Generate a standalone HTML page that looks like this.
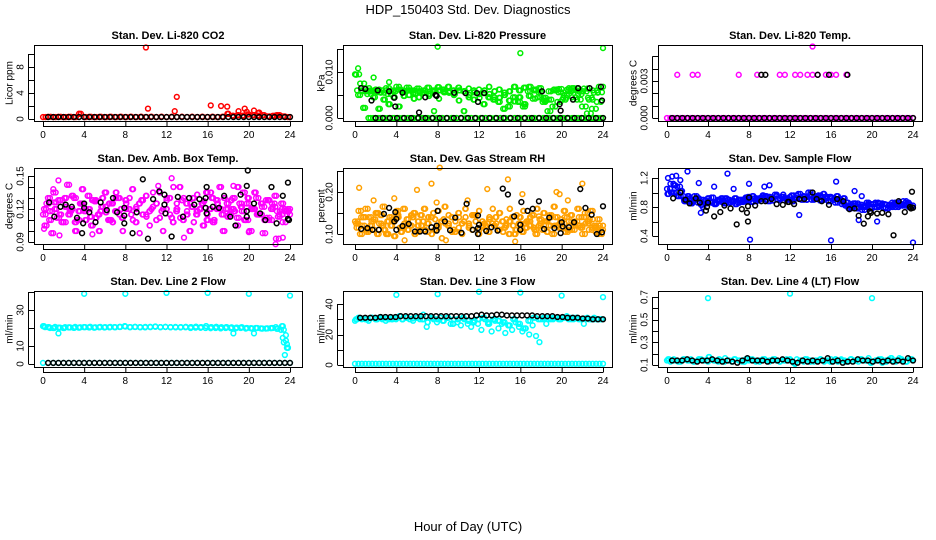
<!DOCTYPE html>
<html><head><meta charset="utf-8"><style>
html,body{margin:0;padding:0;background:#fff}
svg{display:block;font-family:"Liberation Sans",sans-serif}
</style></head><body>
<svg id="c" width="936" height="540" viewBox="0 0 936 540">
<text x="468" y="14" text-anchor="middle" font-size="13">HDP_150403  Std. Dev. Diagnostics</text>
<text x="468" y="531" text-anchor="middle" font-size="13">Hour of Day (UTC)</text>
</svg>
<script>
// ---------- data ----------
const xTicks=[0,4,8,12,16,20,24];
// P1 CO2
const co2Red=[0.3,0.35,0.3,0.35,0.3,0.35,0.3,0.8,0.3,0.35,0.3,0.35,0.3,0.35,0.3,0.35,0.3,0.35,0.3,0.35,0.3,0.35,0.3,0.35,0.3,0.35,0.3,0.35,0.3,0.35,0.3,0.35,0.3,0.35,0.3,0.35,0.8,0.5,0.6,0.5,0.7,0.6,0.5,0.6,0.4,0.5,0.6,0.4,0.3];
const co2RedOutX=[10,10.2,13,12.8,16.3,17.3,17.9,19.6,20.5,19,21,3.5,18,22.7,19.8,20.9];
const co2RedOutY=[11,1.6,3.4,1.2,2.1,2.0,1.9,1.6,1.3,1.2,1.0,0.8,0.8,0.6,1.1,0.9];
const co2Black=[0.3,0.3,0.3,0.3,0.3,0.3,0.3,0.3,0.3,0.3,0.3,0.3,0.3,0.3,0.3,0.3,0.3,0.3,0.3,0.3,0.3,0.3,0.3,0.3,0.3,0.3,0.3,0.3,0.3,0.3,0.3,0.3,0.3,0.3,0.3,0.3,0.3,0.3,0.3,0.3,0.3,0.3,0.3,0.3,0.3,0.3,0.3,0.3];
// P2 Pressure
const presZero=[0,0,0,0,0,0,0,0,0,0,0,0,0,0,0,0,0,0,0,0,0,0,0,0,0,0,0,0,0,0,0,0,0,0,0,0,0,0,0,0,0,0,0,0,0,0,0,0,0];
const presGreenA=[0.0095,0.0075,0.0065,0.006,0.0062,0.0055,0.0065,0.006,0.0068,0.006,0.0066,0.006,0.0064,0.0055,0.0066,0.006,0.0067,0.0062,0.0068,0.006,0.0066,0.0058,0.0064,0.006,0.0062,0.0055,0.0068,0.0045,0.0062,0.0055,0.0038,0.0068,0.0045,0.0066,0.0068,0.0062,0.0065,0.0038,0.004,0.0062,0.0063,0.005,0.0065,0.0065,0.0058,0.0064,0.004,0.0055,0.0068];
const presGreenB=[0.005,0.0022,0.0058,0.0045,0.002,0.004,0.003,0.0045,0.0025,0.0048,0.005,0.0042,0.0045,0.0055,0.0048,0.0015,0.0042,0.0058,0.0055,0.005,0.0038,0.0015,0.0045,0.004,0.0052,0.003,0.0045,0.004,0.0035,0.002,0.0025,0.0045,0.0035,0.0025,0.0058,0.0042,0.0045,0.0035,0.0015,0.0025,0.0035,0.004,0.0062,0.0045,0.004,0.0025,0.001,0.002,0.0035];
const presGreenC=[0.006,0.0058,0.0052,0.0058,0.0056,0.006,0.0052,0.0058,0.0062,0.0056,0.006,0.0054,0.0058,0.006,0.0052,0.0058,0.006,0.0056,0.0058,0.0052,0.006,0.0058,0.005,0.0056,0.0044,0.006,0.0052,0.0058,0.0044,0.005,0.0058,0.0036,0.006,0.003,0.0048,0.006,0.0056,0.0044,0.0058,0.006,0.0056,0.0044,0.0058,0.006,0.0052,0.0058,0.0044,0.006,0.0056];
const presOutX=[8,16,24,0.1,0.3,1.8,0.8,3.3];
const presOutY=[0.0155,0.0141,0.0152,0.0094,0.0108,0.0088,0.0022,0.0078];
const presBlackZero=[0,0,0,0,0,0,0,0,0,0,0,0,0,0,0,0,0,0,0,0,0,0,0,0,0,0,0,0,0,0,0,0,0];
const presBlackX=[0.6,1,1.6,2.2,3.3,3.8,3.9,4.6,6.8,7.8,7.9,9.6,10.7,11.8,11.9,12.5,18.1,19.8,19.9,21.1,21.6,22.7,23.8,23.9,6.2];
const presBlackY=[0.0065,0.0063,0.0038,0.006,0.0058,0.0044,0.0025,0.0055,0.0045,0.005,0.0048,0.0055,0.0054,0.0054,0.0035,0.0054,0.0058,0.003,0.0016,0.004,0.0065,0.0065,0.0068,0.0038,0.0012];
// P3 Temp
const tempMagZero=[0,0,0,0,0,0,0,0,0,0,0,0,0,0,0,0,0,0,0,0,0,0,0,0,0,0,0,0,0,0,0,0,0,0,0,0,0,0,0,0,0,0,0,0,0,0,0,0,0,0,0,0,0,0,0,0,0,0,0,0,0,0,0,0,0,0,0,0,0,0,0,0,0];
const tempMagX=[1,2.5,3,7,8.8,11,11.5,12.5,13,13.7,14.2,14.7,15.5,16,16.5,17.5,14.2];
const tempMagY=[0.0035,0.0035,0.0035,0.0035,0.0035,0.0035,0.0035,0.0035,0.0035,0.0035,0.0035,0.0035,0.0035,0.0035,0.0035,0.0035,0.0058];
const tempBlackZero=[0,0,0,0,0,0,0,0,0,0,0,0,0,0,0,0,0,0,0,0,0,0,0,0,0,0,0,0,0,0,0,0,0,0,0,0,0,0,0,0,0,0,0,0,0,0,0,0];
const tempBlackX=[9.2,9.6,14.7,15.8,17.6];
const tempBlackY=[0.0035,0.0035,0.0035,0.0035,0.0035];
// P4 Amb box temp
const ambA=[0.115,0.125,0.118,0.135,0.112,0.128,0.108,0.142,0.12,0.13,0.11,0.125,0.118,0.132,0.105,0.127,0.115,0.122,0.135,0.11,0.125,0.118,0.13,0.112,0.128,0.12,0.138,0.108,0.125,0.115,0.132,0.118,0.122,0.11,0.135,0.12,0.128,0.115,0.14,0.125,0.112,0.13,0.118,0.125,0.108,0.133,0.12,0.127,0.115,0.135,0.11,0.125,0.12,0.13,0.113,0.128,0.118,0.14,0.122,0.11,0.13,0.12,0.135,0.115,0.125,0.11,0.128,0.12,0.132,0.113,0.125,0.118,0.12];
const ambB=[0.105,0.13,0.098,0.12,0.128,0.108,0.122,0.115,0.132,0.1,0.118,0.138,0.11,0.12,0.128,0.112,0.1,0.13,0.117,0.125,0.108,0.135,0.115,0.1,0.12,0.13,0.11,0.122,0.098,0.128,0.115,0.105,0.135,0.125,0.112,0.1,0.12,0.13,0.108,0.118,0.14,0.11,0.125,0.1,0.13,0.115,0.12,0.105,0.135,0.12,0.108,0.128,0.14,0.1,0.12,0.115,0.13,0.105,0.125,0.135,0.11,0.1,0.12,0.13,0.115,0.098,0.128,0.11,0.122,0.093,0.115,0.108,0.118];
const ambC=[0.12,0.11,0.126,0.115,0.13,0.118,0.108,0.125,0.12,0.113,0.128,0.118,0.122,0.11,0.13,0.12,0.125,0.115,0.12,0.128,0.113,0.12,0.125,0.118,0.13,0.112,0.12,0.128,0.115,0.122,0.118,0.125,0.11,0.13,0.12,0.115,0.125,0.12,0.112,0.118,0.125,0.12,0.115,0.122,0.112,0.125,0.118,0.12,0.115];
const ambOutX=[0.1,1.5,1.6,12.5,13.7,20,22.6,23.3,18.5,1,4.8,11.2];
const ambOutY=[0.102,0.146,0.096,0.148,0.094,0.099,0.088,0.094,0.141,0.138,0.097,0.141];
const ambBlackX=[0.6,1.1,1.7,2.2,2.8,3.3,3.9,3.8,4,4,4.5,5.1,5.6,6.2,6.8,7.2,7.9,7.9,7.9,8.7,9.1,9.7,10.2,10.7,11.3,11.8,11.8,11.9,12.5,13.1,13.6,14.2,14.7,15.2,15.8,15.9,15.8,15.9,16.5,17.1,17.6,18.2,18.7,19.2,19.8,19.9,19.8,19.8,20.5,21.1,21.6,22.2,22.7,23.3,23.8,23.8,23.9];
const ambBlackY=[0.126,0.113,0.122,0.124,0.122,0.112,0.107,0.098,0.125,0.121,0.117,0.108,0.126,0.119,0.13,0.117,0.114,0.107,0.121,0.098,0.117,0.147,0.093,0.129,0.136,0.133,0.124,0.116,0.095,0.131,0.113,0.13,0.124,0.129,0.13,0.14,0.121,0.116,0.122,0.121,0.132,0.113,0.105,0.133,0.141,0.155,0.118,0.113,0.125,0.116,0.11,0.14,0.107,0.132,0.144,0.111,0.11];
// P5 Gas stream RH
const rhA=[0.13,0.155,0.12,0.16,0.14,0.11,0.15,0.125,0.165,0.1,0.14,0.13,0.155,0.115,0.16,0.135,0.12,0.15,0.105,0.145,0.16,0.125,0.14,0.11,0.155,0.13,0.165,0.12,0.14,0.105,0.15,0.125,0.16,0.115,0.145,0.13,0.155,0.12,0.11,0.14,0.16,0.125,0.15,0.105,0.135,0.16,0.12,0.145,0.11,0.155,0.13,0.14,0.115,0.16,0.125,0.15,0.105,0.14,0.165,0.12,0.135,0.155,0.11,0.145,0.125,0.16,0.115,0.14,0.13,0.155,0.12,0.135,0.11];
const rhB=[0.115,0.1,0.14,0.105,0.12,0.135,0.1,0.145,0.11,0.13,0.12,0.095,0.14,0.105,0.125,0.11,0.145,0.1,0.13,0.12,0.11,0.14,0.1,0.135,0.115,0.09,0.125,0.145,0.105,0.13,0.115,0.1,0.14,0.125,0.11,0.145,0.1,0.13,0.12,0.105,0.125,0.14,0.11,0.13,0.12,0.1,0.14,0.11,0.125,0.105,0.115,0.13,0.145,0.1,0.12,0.11,0.13,0.12,0.1,0.14,0.115,0.125,0.105,0.13,0.11,0.12,0.14,0.1,0.125,0.11,0.115,0.105,0.1];
const rhC=[0.125,0.14,0.11,0.13,0.15,0.12,0.1,0.135,0.145,0.115,0.125,0.14,0.12,0.13,0.105,0.15,0.12,0.135,0.125,0.11,0.14,0.13,0.12,0.145,0.11,0.125,0.135,0.12,0.15,0.115,0.13,0.1,0.14,0.125,0.12,0.11,0.135,0.13,0.145,0.12,0.125,0.14,0.11,0.13,0.12,0.15,0.135,0.115,0.12];
const rhOutX=[0.4,4.8,6,7.4,8.2,8.8,12.8,14.8,15.5,19.5,19.8,22,1.8,3.8,16.2,20.6,17.8,10.9,7.9];
const rhOutY=[0.21,0.085,0.205,0.22,0.258,0.085,0.207,0.23,0.082,0.2,0.195,0.22,0.18,0.185,0.195,0.18,0.142,0.18,0.175];
const rhBlackX=[0.6,1.2,1.7,2.3,2.8,3.3,3.9,4,3.8,4,4.6,5.2,5.8,6.3,6.8,7.4,7.9,7.9,8,8.7,9.2,9.7,10.3,10.8,11.4,11.9,12,11.9,11.9,12.7,13.2,13.8,14.3,14.8,15.4,16,16,16.1,16.7,17.2,17.8,18.3,18.8,19.3,19.9,20,20.1,20.7,21.2,21.8,22.3,22.9,23.4,23.9,24];
const rhBlackY=[0.112,0.114,0.11,0.11,0.148,0.162,0.152,0.136,0.13,0.11,0.119,0.124,0.106,0.106,0.106,0.116,0.12,0.108,0.155,0.13,0.109,0.139,0.103,0.172,0.11,0.144,0.122,0.114,0.1,0.107,0.116,0.108,0.208,0.194,0.142,0.122,0.11,0.176,0.155,0.16,0.178,0.112,0.139,0.114,0.102,0.128,0.118,0.116,0.128,0.207,0.162,0.146,0.1,0.104,0.166];
// P6 Sample flow
const flowA=[1.05,1.12,1.0,1.08,0.95,0.9,0.92,0.88,0.95,0.86,0.9,0.85,0.88,0.93,0.85,0.9,0.87,0.92,0.86,0.89,0.84,0.9,0.87,0.93,0.9,0.95,0.88,0.92,0.96,0.9,0.94,0.89,0.95,0.92,0.97,0.9,0.94,0.88,0.96,0.91,0.95,0.9,0.97,0.92,0.95,0.89,0.98,0.92,0.94,0.9,0.95,0.88,0.92,0.86,0.8,0.85,0.78,0.83,0.8,0.86,0.78,0.84,0.8,0.85,0.79,0.83,0.8,0.84,0.86,0.82,0.88,0.84,0.82];
const flowB=[0.98,1.0,1.1,0.95,1.02,0.88,0.95,0.85,0.9,0.92,0.83,0.88,0.92,0.86,0.84,0.89,0.92,0.85,0.9,0.88,0.92,0.86,0.9,0.88,0.94,0.87,0.92,0.9,0.93,0.95,0.88,0.93,0.97,0.9,0.94,0.92,0.9,0.96,0.92,0.98,0.9,0.94,1.0,0.9,0.93,0.96,0.9,0.94,0.88,0.92,0.86,0.9,0.84,0.82,0.78,0.82,0.85,0.8,0.76,0.82,0.84,0.8,0.86,0.82,0.84,0.78,0.82,0.86,0.8,0.84,0.82,0.86,0.8];
const flowOutX=[0.1,0.5,0.9,1.3,2,3.1,3.3,4.6,5.9,6.5,8,8.1,12.9,16,16.5,18.3,18.7,19,20.5,24,10,9.5,3.5];
const flowOutY=[1.2,1.22,1.23,1.17,1.29,1.13,0.72,1.08,1.26,1.05,1.12,0.35,0.69,0.34,1.15,1.02,0.62,0.95,0.6,0.31,1.1,1.08,0.8];
const flowBlackX=[0.6,1.3,1.8,2.2,2.8,3.2,3.8,3.9,4,4.6,5.2,5.6,6.2,6.8,7.3,7.8,7.9,7.9,8,8.6,9.2,9.6,10.2,10.7,11.3,11.8,11.9,12.4,12.9,13.4,14.2,14.6,15.1,15.8,16.6,17.2,17.8,18.3,18.7,19.2,19.6,19.8,19.9,20.5,21,21.6,22.1,22.6,23.2,23.7,23.8,23.9,24];
const flowBlackY=[0.92,1.0,0.9,0.85,0.92,0.86,0.75,0.8,0.86,0.67,0.73,0.82,0.78,0.56,0.77,0.72,0.6,0.81,0.93,0.82,0.88,0.88,0.91,0.84,0.83,0.87,0.87,0.84,0.91,0.91,1.0,0.91,0.88,0.83,0.91,0.88,0.77,0.78,0.68,0.57,0.67,0.74,0.72,0.71,0.72,0.7,0.41,0.88,0.73,0.8,0.78,1.01,0.79];
// P7 Line 2 flow
const l2Cyan=[21,20.5,20,20.2,20,20.3,20.1,20.2,20.5,20.3,20.2,20.4,20.3,20.4,20.5,20.6,21,20.5,20.6,20.5,20.4,20.6,20.8,20.5,20.6,20.5,20.4,20.5,20.6,20.5,20.7,20.5,21,20.5,20.6,20.4,20.5,20.3,20.2,20.4,20,19.8,20,19.7,19.8,20,19.6,21,9];
const l2CyanB=[20.5,20,20.6,20.2,20.5,20.3,20.6,20.4,20.5,20.7,20.4,20.6,20.5,20.6,20.4,20.6,20.8,20.5,20.6,20.4,20.6,20.5,20.7,20.5,20.6,20.4,20.6,20.3,20.4,20,20.2,20.1,20,19.9,20,19.8,20,19.9,19.8,20,19.7,19.9,20,19.8,19.7,19.9,20.5,19,16];
const l2OutX=[4,8,12,16,20,24,1.5,18.5,20.5,23.4,23.3,23.4,23.7,23.8,23.5,23.6];
const l2OutY=[39,39,39.5,39.5,39,38,17,17,17,19,14.5,12,11,9,5,13];
const l2CyanZero=[0.6,0.6,0.6,0.6,0.6,0.6,0.6,0.6,0.6,0.6,0.6,0.6,0.6,0.6,0.6,0.6,0.6,0.6,0.6,0.6,0.6,0.6,0.6,0.6,0.6,0.6,0.6,0.6,0.6,0.6,0.6,0.6,0.6,0.6,0.6,0.6,0.6,0.6,0.6,0.6,0.6,0.6,0.6,0.6,0.6,0.6,0.6,0.6,0.6];
const l2Black=[0.6,0.6,0.6,0.6,0.6,0.6,0.6,0.6,0.6,0.6,0.6,0.6,0.6,0.6,0.6,0.6,0.6,0.6,0.6,0.6,0.6,0.6,0.6,0.6,0.6,0.6,0.6,0.6,0.6,0.6,0.6,0.6,0.6,0.6,0.6,0.6,0.6,0.6,0.6,0.6,0.6,0.6,0.6,0.6,0.6,0.6,0.6,0.6];
// P8 Line 3 flow
const l3A=[29,31,30,30,29,31,30,31,30,29,30,31,30,32,30,31,30,29,31,30,33,25,31,30,28,31,29,31,27,30,28,26,30,27,25,29,27,23,30,28,22,29,24,27,21,26,23,28,25,22,24,20,26,19,15,30,27,31,30,31,30,31,32,31,30,31,30,27,31,30,31,30,30];
const l3B=[30,30.5,30,31,30,31,30.5,30,31,30,31,30.5,31,30,28,31,30,29,31,27,30,31,29,28,30,31,27,30,29,28,26,30,27,24,29,31,30,31,30,31,30,31,30,31,30,30.5,30,30,30];
const l3OutX=[4,8,12,16,20,24];
const l3OutY=[46,46.5,48,47.5,45.5,44.5];
const l3CyanZero=[0.8,0.8,0.8,0.8,0.8,0.8,0.8,0.8,0.8,0.8,0.8,0.8,0.8,0.8,0.8,0.8,0.8,0.8,0.8,0.8,0.8,0.8,0.8,0.8,0.8,0.8,0.8,0.8,0.8,0.8,0.8,0.8,0.8,0.8,0.8,0.8,0.8,0.8,0.8,0.8,0.8,0.8,0.8,0.8,0.8,0.8,0.8,0.8,0.8,0.8,0.8,0.8,0.8,0.8,0.8,0.8,0.8,0.8,0.8,0.8,0.8,0.8,0.8,0.8,0.8,0.8,0.8,0.8,0.8,0.8,0.8,0.8,0.8];
const l3Black=[31,31,31,31,31.5,31.5,31.5,31.5,32,32,32,32,32,32,32,32,32,32,32,32,32,32,32,32.5,33,32.5,32.5,33,33,32.5,32.5,32.5,32.5,32.5,32.5,32,32,32,32,31.5,31.5,31,31,31,30.5,30.5,30,30,30];
// P9 Line 4 flow
const l4A=[0.14,0.13,0.15,0.14,0.13,0.15,0.14,0.15,0.13,0.14,0.15,0.14,0.13,0.15,0.14,0.13,0.14,0.16,0.14,0.13,0.15,0.14,0.13,0.15,0.14,0.15,0.13,0.14,0.15,0.14,0.13,0.15,0.14,0.13,0.14,0.15,0.14,0.12,0.15,0.14,0.13,0.15,0.14,0.13,0.14,0.15,0.13,0.14,0.15,0.14,0.13,0.15,0.14,0.13,0.15,0.14,0.13,0.15,0.14,0.16,0.13,0.14,0.15,0.12,0.14,0.15,0.14,0.13,0.16,0.14,0.13,0.15,0.14];
const l4B=[0.15,0.14,0.13,0.15,0.14,0.13,0.15,0.14,0.17,0.14,0.15,0.13,0.14,0.15,0.14,0.13,0.15,0.14,0.13,0.15,0.14,0.15,0.13,0.14,0.15,0.11,0.14,0.15,0.13,0.14,0.15,0.14,0.13,0.15,0.14,0.13,0.15,0.14,0.15,0.14,0.12,0.14,0.15,0.13,0.16,0.14,0.15,0.13,0.15];
const l4OutX=[4,12,20];
const l4OutY=[0.69,0.73,0.69];
const l4Black=[0.14,0.14,0.14,0.15,0.14,0.13,0.14,0.14,0.15,0.14,0.13,0.14,0.13,0.12,0.14,0.16,0.14,0.14,0.14,0.13,0.14,0.14,0.15,0.14,0.13,0.12,0.14,0.13,0.14,0.13,0.14,0.16,0.13,0.14,0.12,0.13,0.13,0.15,0.14,0.14,0.13,0.14,0.13,0.14,0.13,0.14,0.13,0.16,0.14];

// ---------- drawing ----------
const NS="http://www.w3.org/2000/svg";
const svg=document.getElementById('c');
function mk(tag,attrs,parent){const e=document.createElementNS(NS,tag);for(const k in attrs)e.setAttribute(k,attrs[k]);(parent||svg).appendChild(e);return e;}
const cols=[{bx0:34,bx1:302,h0:43,h24:290,tx:10},{bx0:343,bx1:612,h0:355,h24:603,tx:322},{bx0:658,bx1:922,h0:667,h24:913,tx:634}];
const rows=[{by0:45,by1:121,tl:35},{by0:168,by1:244,tl:158},{by0:291,by1:367,tl:281}];
function panel(name,title,ytitle,c,r,yv0,yp0,yv1,yp1,yticks,ylabels){
  const C=cols[c],R=rows[r];
  const g=mk('g',{});
  
  
  const sx=h=>C.h0+(h)*(C.h24-C.h0)/24;
  const sy=v=>yp0+(v-yv0)*(yp1-yp0)/(yv1-yv0);
  const t=mk('text',{x:(C.bx0+C.bx1)/2,y:R.tl+4,'text-anchor':'middle','font-size':11,'font-weight':'bold'},g);
  t.textContent=title;
  
  
  const yt=mk('text',{transform:`translate(${C.tx},${(R.by0+R.by1)/2}) rotate(-90)`,'text-anchor':'middle','font-size':10,'dominant-baseline':'middle'},g);
  yt.textContent=ytitle;
  
  
  const marks=mk('g',{},g);
  
  
  const ax=mk('g',{stroke:'#000','stroke-width':1,fill:'none'},g);
  
  
  mk('rect',{x:C.bx0+0.5,y:R.by0+0.5,width:C.bx1-C.bx0,height:R.by1-R.by0},ax);
  mk('line',{x1:sx(0),x2:sx(24),y1:R.by1+5.5,y2:R.by1+5.5},ax);
  xTicks.forEach(h=>{
    mk('line',{x1:sx(h)+0.5,x2:sx(h)+0.5,y1:R.by1+0.5,y2:R.by1+5.5},ax);
    const lt=mk('text',{x:sx(h),y:R.by1+17,'text-anchor':'middle','font-size':10},g);
    lt.textContent=h;
    
    
  });
  mk('line',{x1:C.bx0-5.5,x2:C.bx0-5.5,y1:sy(yticks[0]),y2:sy(yticks[yticks.length-1])},ax);
  yticks.forEach(v=>{mk('line',{x1:C.bx0-5.5,x2:C.bx0+0.5,y1:Math.round(sy(v))+0.5,y2:Math.round(sy(v))+0.5},ax);});
  ylabels.forEach(l=>{
    const yl=mk('text',{transform:`translate(${C.bx0-13},${sy(parseFloat(l))}) rotate(-90)`,'text-anchor':'middle','font-size':10,'dominant-baseline':'middle'},g);
    yl.textContent=l;
    
    
  });
  function dot(h,v,col){
    const y=sy(v);
    if(y<R.by0-2||y>R.by1+2)return;
    const ci=mk('circle',{cx:sx(h),cy:y,r:2.4,fill:'none',stroke:col,'stroke-width':1.5},marks);
    
    
  }
  return {
    even(vals,col,h0,h1){const a=(h0===undefined?0:h0),b=(h1===undefined?24:h1);vals.forEach((v,i)=>dot(a+i*(b-a)/(vals.length-1),v,col));},
    xy(xs,ys,col){xs.forEach((h,i)=>dot(h,ys[i],col));}
  };
}
const RED='#ff0000',GRN='#00ee00',MAG='#ff00ff',ORG='#ffa000',BLU='#0000ff',CYN='#00ffff',BLK='#000';
let p;
p=panel('panel-co2','Stan. Dev. Li-820 CO2','Licor ppm',0,0,0,119,8,67,[0,2,4,6,8,10],['0','4','8']);
p.even(co2Red,RED,0,24);p.even(co2Red,RED,0.25,23.8);p.xy(co2RedOutX,co2RedOutY,RED);p.even(co2Black,BLK,0.5,24);
p=panel('panel-pressure','Stan. Dev. Li-820 Pressure','kPa',1,0,0,118,0.01,72,[0,0.005,0.01,0.015],['0.000','0.010']);
p.even(presZero,GRN,1.3,24);p.even(presZero,GRN,1.5,23.8);
p.even(presGreenA,GRN,0,24);p.even(presGreenB,GRN,0.3,23.8);p.even(presGreenC,GRN,0.6,23.5);
p.even(presGreenA,GRN,0.4,23.6);p.even(presGreenC,GRN,0.2,23.9);p.even(presGreenB,GRN,0.5,23.4);
p.xy(presOutX,presOutY,GRN);
p.even(presBlackZero,BLK,2,24);p.xy(presBlackX,presBlackY,BLK);
p=panel('panel-temp','Stan. Dev. Li-820 Temp.','degrees C',2,0,0,118,0.003,81,[0,0.001,0.002,0.003,0.004,0.005],['0.000','0.003']);
p.even(tempMagZero,MAG,0,24);p.xy(tempMagX,tempMagY,MAG);p.even(tempBlackZero,BLK,0.5,24);p.xy(tempBlackX,tempBlackY,BLK);
p=panel('panel-amb-temp','Stan. Dev. Amb. Box Temp.','degrees C',0,1,0.09,242,0.15,176,[0.09,0.1,0.11,0.12,0.13,0.14,0.15],['0.09','0.12','0.15']);
p.even(ambA,MAG,0,24);p.even(ambB,MAG,0.15,23.9);p.even(ambC,MAG,0.3,23.7);
p.even(ambC,MAG,0.1,24);p.even(ambA,MAG,0.25,23.8);p.even(ambB,MAG,0.35,23.6);
p.xy(ambOutX,ambOutY,MAG);p.xy(ambBlackX,ambBlackY,BLK);
p=panel('panel-rh','Stan. Dev. Gas Stream RH','percent',1,1,0.1,234,0.2,192,[0.1,0.15,0.2,0.25],['0.10','0.20']);
p.even(rhA,ORG,0,24);p.even(rhB,ORG,0.15,23.9);p.even(rhC,ORG,0.3,23.7);
p.even(rhC,ORG,0.1,24);p.even(rhA,ORG,0.25,23.8);p.even(rhB,ORG,0.35,23.6);
p.xy(rhOutX,rhOutY,ORG);p.xy(rhBlackX,rhBlackY,BLK);
p=panel('panel-sample-flow','Stan. Dev. Sample Flow','ml/min',2,1,0.4,236,1.2,178,[0.4,0.6,0.8,1.0,1.2],['0.4','0.8','1.2']);
p.even(flowA,BLU,0,24);p.even(flowB,BLU,0.15,23.9);p.even(flowA,BLU,0.3,23.7);p.even(flowB,BLU,0.05,23.6);
p.xy(flowOutX,flowOutY,BLU);p.xy(flowBlackX,flowBlackY,BLK);
p=panel('panel-line2','Stan. Dev. Line 2 Flow','ml/min',0,2,0,364,30,310,[0,10,20,30,40],['0','10','30']);
p.even(l2Cyan,CYN,0,23.8);p.even(l2CyanB,CYN,0.2,23.6);p.even(l2Cyan,CYN,0.1,23.7);p.xy(l2OutX,l2OutY,CYN);
p.even(l2CyanZero,CYN,0,24);p.even(l2Black,BLK,0.5,24);
p=panel('panel-line3','Stan. Dev. Line 3 Flow','ml/min',1,2,0,365,40,304,[0,10,20,30,40],['0','20','40']);
p.even(l3A,CYN,0,23.8);p.even(l3B,CYN,0.2,23.6);p.even(l3B,CYN,0.1,23.9);p.xy(l3OutX,l3OutY,CYN);
p.even(l3CyanZero,CYN,0,24);p.even(l3Black,BLK,0.5,24);
p=panel('panel-line4','Stan. Dev. Line 4 (LT) Flow','ml/min',2,2,0.1,365,0.7,297,[0.1,0.2,0.3,0.4,0.5,0.6,0.7],['0.1','0.3','0.5','0.7']);
p.even(l4A,CYN,0,24);p.even(l4B,CYN,0.2,23.8);p.even(l4B,CYN,0.1,23.9);p.xy(l4OutX,l4OutY,CYN);p.even(l4Black,BLK,0.5,24);
</script>
</body></html>
